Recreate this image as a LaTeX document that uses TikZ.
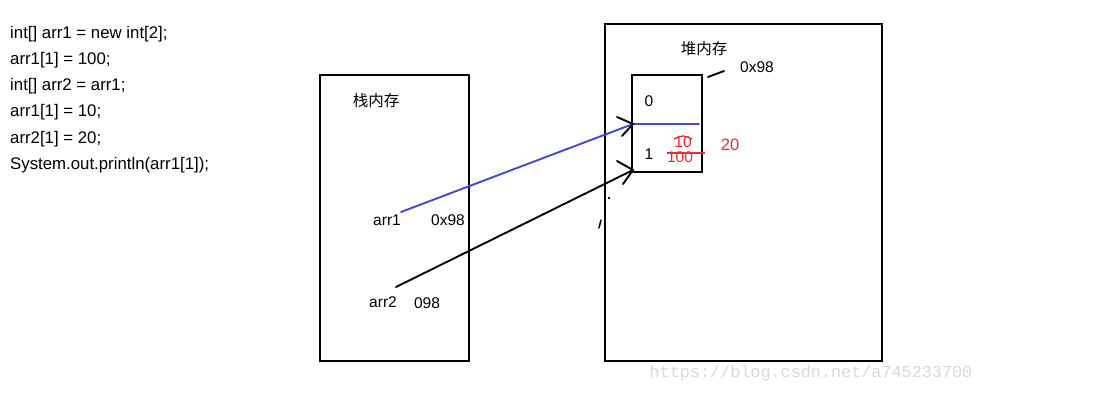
\documentclass[tikz,border=0pt]{standalone}
\usepackage{fontspec}
\usepackage{tikz}
\setmainfont{Liberation Sans}
\newfontfamily\cjk{Noto Sans CJK SC}
\newfontfamily\wmfont{Liberation Mono}
\definecolor{penblue}{RGB}{70,70,220}
\definecolor{penred}{RGB}{240,40,50}
\tikzset{
  txt/.style={inner sep=0pt, font=\fontsize{15.5}{18}\selectfont},
  codeline/.style={inner sep=0pt, anchor=west, font=\fontsize{16.8}{18}\selectfont},
  redtxt/.style={txt, text=penred},
  box/.style={line width=2pt},
  pen/.style={line width=1.9pt, line cap=round}
}

\begin{document}
\begin{tikzpicture}[x=1pt,y=-1pt]
\useasboundingbox (0,0) rectangle (1096,411);

\node[codeline] (code1) at (10,34) {int[] arr1 = new int[2];};
\node[codeline] (code2) at (10,60) {arr1[1] = 100;};
\node[codeline] (code3) at (10,86) {int[] arr2 = arr1;};
\node[codeline] (code4) at (10,112) {arr1[1] = 10;};
\node[codeline] (code5) at (10,139) {arr2[1] = 20;};
\node[codeline] (code6) at (10,165) {System.out.println(arr1[1]);};

\draw[box] (320,75) rectangle (469,361);
\node[txt] (stack) at (376,101) {\cjk 栈内存};
\node[txt] (arr1) at (387,220) {arr1};
\node[txt] (addr1) at (448,220) {0x98};
\node[txt] (arr2) at (383,302) {arr2};
\node[txt] (addr2) at (427,303) {098};

\draw[box] (605,24) rectangle (882,361);
\node[txt] (heap) at (704,49) {\cjk 堆内存};
\node[txt] (heapaddr) at (757,67) {0x98};
\draw[box] (632,75) rectangle (702,172);
\node[txt] (idx0) at (649,101) {0};
\node[txt] (idx1) at (649,154) {1};
\node[redtxt] (old10) at (683,142) {10};
\node[redtxt] (old100) at (680,157) {100};
\node[redtxt, font=\fontsize{16.5}{18}\selectfont] (new20) at (730,145) {20};

\coordinate (from1) at (401,212);
\coordinate (from2) at (396,287);
\coordinate (slot0) at (633,124);
\coordinate (slot1) at (633,170);
\coordinate (divend) at (699,124);
\coordinate (tickA) at (708,77);
\coordinate (tickB) at (724,71);

\draw[pen, penblue] (slot0) -- (divend);
\draw[pen, penblue] (from1) -- (slot0);
\draw[pen] (from2) -- (slot1);
\draw[pen] (617,117) -- (slot0) -- (622,136);
\draw[pen] (617,161) -- (slot1) -- (623,184);
\draw[pen] (tickA) -- (tickB);

\draw[line width=1.3pt, penred] (667,153) -- (705,153);
\draw[line width=1.2pt, penred] (674,139) .. controls (683,135) .. (692,139);

\fill (609,198) circle (1.3);
\draw[pen, line width=1.5pt] (599,228) -- (601,220);

\node[inner sep=0pt, text=gray!30, font=\wmfont\fontsize{16.8}{18}\selectfont] (mark) at (811,373) {https://blog.csdn.net/a745233700};
\end{tikzpicture}
\end{document}
